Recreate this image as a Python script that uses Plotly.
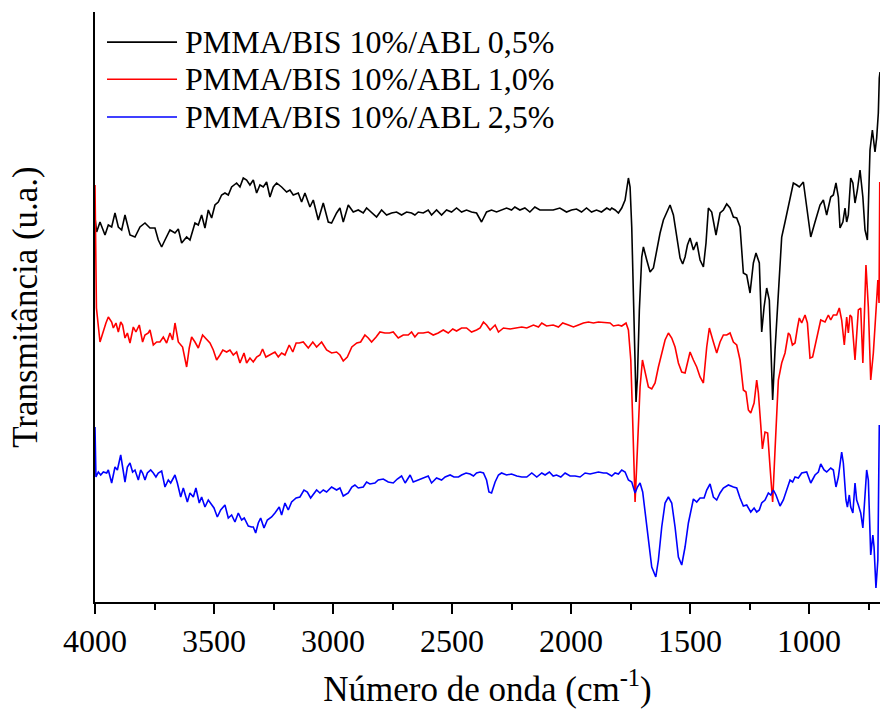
import plotly.graph_objects as go

# ---- data (wavenumber cm-1, transmittance in arbitrary units) ----
wn_black = [4000,3993,3979,3958,3944,3930,3916,3902,3888,3874,3853,3832,3811,3790,3769,3748,3734,3720,3706,3685,3664,3650,3636,3615,3601,3580,3566,3552,3538,3524,3510,3496,3482,3468,3454,3440,3426,3405,3391,3377,3363,3349,3335,3321,3307,3293,3279,3265,3251,3237,3216,3195,3181,3167,3146,3132,3118,3097,3083,3062,3041,3020,3006,2985,2971,2957,2936,2915,2894,2873,2859,2838,2817,2796,2775,2754,2733,2712,2691,2670,2656,2642,2621,2600,2586,2565,2544,2523,2502,2481,2460,2439,2418,2397,2376,2355,2334,2313,2292,2271,2250,2236,2215,2194,2173,2152,2131,2103,2075,2047,2019,1998,1977,1956,1935,1914,1893,1872,1850,1836,1829,1815,1801,1787,1773,1759,1752,1745,1738,1731,1727,1721,1713,1703,1696,1682,1668,1654,1640,1626,1612,1598,1584,1570,1556,1542,1531,1521,1511,1500,1486,1472,1458,1444,1433,1423,1409,1391,1374,1360,1346,1332,1318,1304,1290,1276,1262,1248,1234,1223,1209,1199,1189,1178,1167,1153,1143,1129,1115,1101,1087,1066,1052,1041,1024,1010,993,975,954,940,926,909,898,887,877,870,858,849,842,835,825,816,807,797,786,774,765,755,744,734,723,716,709,705,702]
t_black = [384,370,380,367,377,375,389,375,372,387,367,365,375,379,374,374,362,355,362,372,369,373,359,365,362,379,377,387,374,392,384,397,400,407,409,407,415,419,415,424,422,417,422,409,417,415,420,405,415,419,415,410,412,407,409,400,409,395,402,382,399,380,379,389,394,380,397,390,392,389,394,389,385,392,387,389,390,387,390,389,387,390,389,392,387,392,387,392,390,394,390,392,390,389,380,390,392,390,392,394,392,395,392,394,390,395,392,392,392,394,390,392,393,390,394,390,392,390,394,392,394,392,389,394,402,424,415,375,309,242,200,225,292,345,355,342,330,334,352,369,382,389,397,387,365,344,338,345,357,364,352,360,342,335,359,394,390,367,389,392,398,394,385,384,375,329,327,309,339,349,339,270,295,314,302,202,252,312,365,380,395,419,417,415,420,395,365,380,397,402,387,405,407,419,405,374,380,394,380,387,424,419,399,412,432,405,372,362,452,472,450,464,489,524,530]

wn_red = [4000,3994,3979,3965,3954,3944,3930,3923,3912,3902,3892,3884,3874,3864,3853,3839,3828,3814,3800,3790,3776,3769,3755,3741,3727,3713,3699,3685,3674,3664,3650,3632,3615,3604,3594,3580,3566,3548,3531,3517,3503,3489,3475,3463,3447,3433,3419,3405,3391,3374,3363,3349,3335,3321,3307,3296,3282,3265,3244,3230,3216,3202,3184,3169,3155,3142,3125,3104,3085,3069,3048,3027,3006,2985,2971,2957,2940,2921,2900,2884,2866,2852,2838,2819,2803,2782,2763,2747,2726,2705,2684,2670,2656,2642,2621,2600,2579,2558,2537,2516,2497,2481,2460,2439,2418,2397,2382,2368,2355,2340,2319,2305,2284,2256,2228,2207,2186,2158,2137,2123,2103,2075,2053,2035,2011,1990,1969,1948,1927,1906,1885,1857,1836,1822,1801,1787,1769,1759,1749,1742,1737,1731,1725,1717,1710,1700,1689,1675,1661,1647,1633,1619,1605,1591,1577,1563,1549,1535,1521,1511,1500,1486,1472,1458,1444,1430,1419,1402,1388,1374,1360,1346,1332,1318,1304,1290,1276,1265,1255,1245,1231,1220,1213,1203,1196,1185,1174,1164,1153,1143,1136,1129,1115,1101,1087,1080,1070,1059,1049,1041,1031,1017,1007,996,985,971,961,951,933,919,909,898,884,873,863,852,842,835,828,821,807,793,783,774,761,751,741,730,716,711,706,703]
t_red = [417,294,260,272,279,285,280,274,279,270,280,277,264,269,259,275,270,277,260,267,269,272,257,260,260,265,259,269,262,279,260,255,235,254,265,260,254,267,262,259,252,242,247,252,250,252,247,250,239,249,239,244,240,245,247,253,245,247,250,245,249,247,257,250,259,259,260,254,260,255,260,252,249,250,247,241,245,255,259,260,267,264,260,265,270,269,269,270,264,267,267,270,265,269,269,270,267,269,272,269,273,271,274,274,270,272,274,280,277,272,277,270,274,273,274,275,274,277,275,279,276,277,275,279,277,275,277,279,280,279,280,279,279,276,277,276,279,272,242,189,142,100,132,182,215,242,229,215,213,219,235,249,262,269,264,255,239,230,229,239,250,242,235,225,219,255,274,260,249,260,267,267,269,260,257,242,212,210,192,189,199,222,209,177,153,170,169,135,100,152,189,222,239,249,269,267,257,259,274,284,279,287,279,244,245,259,269,282,280,287,282,287,287,294,282,257,285,269,287,285,242,292,294,239,337,295,222,249,302,322,299,420]

wn_blue = [4000,3996,3986,3976,3965,3951,3944,3930,3916,3906,3892,3881,3874,3864,3853,3842,3832,3818,3808,3800,3790,3780,3766,3755,3744,3734,3720,3706,3692,3682,3664,3654,3640,3629,3612,3601,3587,3576,3562,3552,3538,3524,3510,3500,3486,3472,3454,3440,3426,3412,3398,3384,3373,3356,3342,3335,3325,3314,3304,3290,3276,3258,3244,3226,3216,3202,3188,3174,3155,3139,3122,3108,3094,3080,3069,3055,3041,3027,3006,2985,2971,2957,2936,2921,2908,2894,2873,2859,2845,2824,2810,2789,2768,2747,2730,2712,2697,2676,2663,2642,2621,2600,2586,2565,2544,2529,2508,2492,2473,2460,2441,2424,2410,2397,2382,2368,2355,2345,2334,2319,2305,2292,2271,2250,2228,2207,2186,2165,2144,2123,2109,2091,2075,2061,2043,2025,2004,1983,1962,1941,1920,1906,1885,1864,1850,1829,1815,1801,1787,1773,1759,1745,1731,1721,1710,1699,1689,1675,1661,1644,1633,1619,1605,1591,1577,1563,1549,1535,1521,1507,1486,1472,1458,1441,1430,1416,1402,1388,1374,1360,1339,1318,1304,1290,1276,1262,1245,1231,1220,1209,1199,1185,1171,1161,1150,1139,1122,1108,1097,1080,1069,1059,1045,1031,1010,993,975,961,951,937,926,909,898,887,877,870,863,856,845,839,831,825,816,807,800,793,783,774,765,758,751,741,732,727,719,711,705]
t_blue = [175,125,130,127,130,129,132,119,135,132,147,132,120,135,139,130,132,122,132,129,122,129,132,129,125,129,131,115,122,119,127,119,105,114,100,109,105,114,99,105,95,102,97,94,85,92,97,84,87,80,89,82,84,76,75,75,69,79,84,74,82,85,89,95,87,99,92,100,104,105,112,110,104,109,112,109,112,110,115,112,114,106,109,115,117,114,115,120,118,119,122,123,120,119,123,126,119,127,120,122,124,126,119,124,122,125,127,125,125,127,129,128,126,129,130,129,122,110,109,120,127,129,127,128,126,125,125,129,125,129,127,130,126,127,125,129,126,126,125,129,128,129,130,129,129,126,129,128,132,130,122,120,109,115,119,110,89,62,35,25,42,75,99,105,99,75,45,37,55,79,103,100,104,104,112,118,105,102,109,114,117,115,114,104,96,97,90,94,90,92,99,102,109,107,112,107,96,102,110,122,120,125,124,129,130,119,127,130,138,132,130,134,132,115,125,137,150,139,102,95,107,95,89,119,102,97,89,74,109,132,122,47,67,55,14,42,177]

series = [
    ("PMMA/BIS 10%/ABL 0,5%", wn_black, t_black, "#000000"),
    ("PMMA/BIS 10%/ABL 1,0%", wn_red, t_red, "#FF0000"),
    ("PMMA/BIS 10%/ABL 2,5%", wn_blue, t_blue, "#0000FF"),
]

FONT = "Liberation Serif"

fig = go.Figure()
for name, x, y, c in series:
    fig.add_trace(go.Scatter(x=x, y=y, mode="lines", name=name,
                             line=dict(color=c, width=1.6), showlegend=False))

# manual legend (long line samples as in the original)
leg_y = [0.949, 0.886, 0.822]
for (name, _, _, c), yy in zip(series, leg_y):
    fig.add_shape(type="line", xref="paper", yref="paper",
                  x0=0.0153, x1=0.1045, y0=yy, y1=yy,
                  line=dict(color=c, width=1.6))
    fig.add_annotation(text=name, xref="paper", yref="paper",
                       x=0.112, y=yy, xanchor="left", yanchor="middle",
                       showarrow=False, font=dict(family=FONT, size=32, color="black"))

fig.update_layout(
    width=880, height=713,
    margin=dict(l=95, r=0, t=12, b=111),
    paper_bgcolor="white", plot_bgcolor="white",
    font=dict(family=FONT, color="black"),
)
fig.update_xaxes(
    range=[4000, 702], showgrid=False, zeroline=False,
    showline=True, linecolor="black", linewidth=2,
    ticks="outside", ticklen=10, tickwidth=2, tickcolor="black",
    tick0=0, dtick=500,
    minor=dict(dtick=250, tick0=0, ticks="outside", ticklen=6, tickwidth=1.5, tickcolor="black"),
    tickfont=dict(family=FONT, size=32, color="black"),
    title=dict(text="Número de onda (cm<sup>-1</sup>)",
               font=dict(family=FONT, size=35, color="black"), standoff=18),
)
fig.update_yaxes(
    range=[0, 590], showgrid=False, zeroline=False,
    showline=True, linecolor="black", linewidth=2,
    ticks="", showticklabels=False,
    title=dict(text="Transmitância (u.a.)",
               font=dict(family=FONT, size=35, color="black"), standoff=45),
)

fig.write_html("out.html")
